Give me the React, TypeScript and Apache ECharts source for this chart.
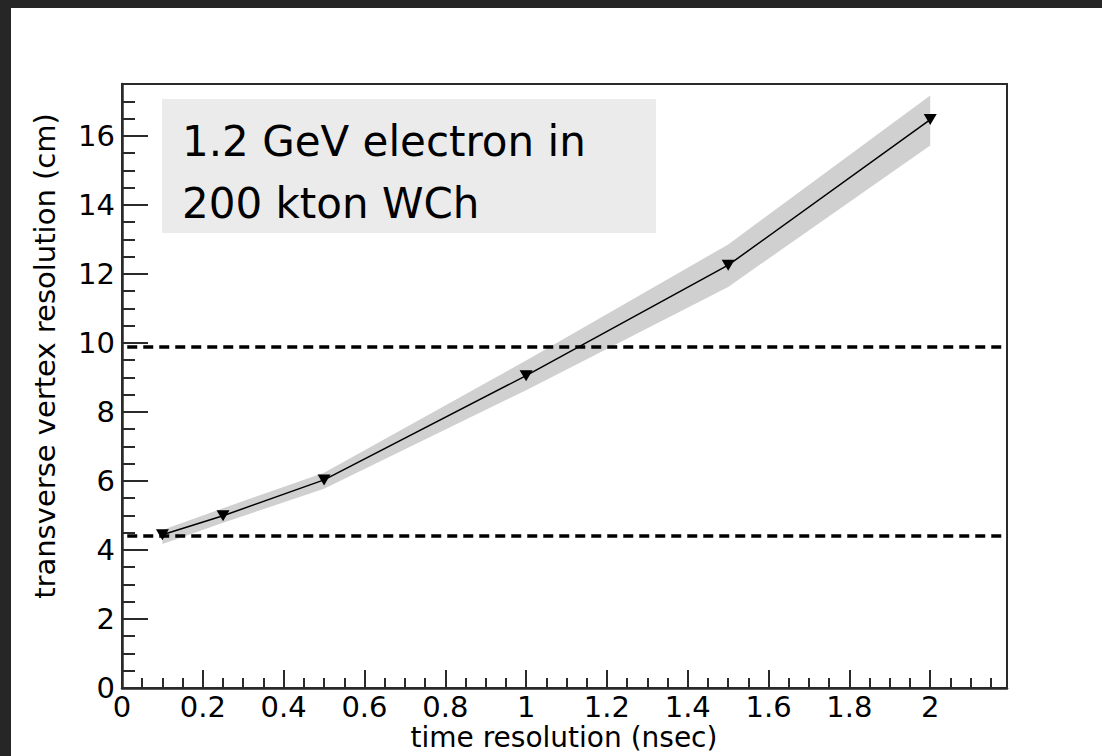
import React, { useEffect, useRef } from "react";
import * as echarts from "echarts";

// Time resolution (ns) of the photosensors
const timeRes = [0.1, 0.25, 0.5, 1.0, 1.5, 2.0];
// Transverse vertex resolution (cm)
const vertexRes = [4.44, 4.99, 6.03, 9.05, 12.25, 16.47];
// Uncertainty band around the curve
const bandLow = [4.17, 4.79, 5.77, 8.63, 11.62, 15.72];
const bandHigh = [4.58, 5.21, 6.24, 9.49, 12.85, 17.17];
// Horizontal reference levels
const refLevels = [9.9, 4.4];

const FONT = "DejaVu Sans";

export default function App() {
  const ref = useRef<HTMLDivElement>(null);

  useEffect(() => {
    document.body.style.margin = "0";
    const chart = echarts.init(ref.current!, undefined, { renderer: "svg" });

    const tickColor = "#2a2a2a";

    chart.setOption({
      animation: false,
      backgroundColor: "#ffffff",
      grid: {
        left: 122,
        right: 95,
        top: 84,
        bottom: 68,
        show: true,
        borderColor: tickColor,
        borderWidth: 2,
        backgroundColor: "transparent",
      },
      xAxis: {
        type: "value",
        min: 0,
        max: 2.19,
        interval: 0.2,
        axisLine: { show: true, lineStyle: { color: tickColor, width: 2.5 } },
        axisTick: { show: true, inside: true, length: 18, lineStyle: { color: tickColor, width: 2 } },
        minorTick: { show: true, splitNumber: 4, length: 10, lineStyle: { color: tickColor, width: 2 } },
        splitLine: { show: false },
        minorSplitLine: { show: false },
        axisLabel: {
          fontFamily: FONT,
          fontSize: 29,
          lineHeight: 29,
          color: "#000",
          margin: 4,
          showMaxLabel: false,
        },
      },
      yAxis: [
        {
          type: "value",
          min: 0,
          max: 17.5,
          interval: 2,
          position: "left",
          axisLine: { show: true, lineStyle: { color: tickColor, width: 2.5 } },
          axisTick: { show: true, inside: true, length: 26, lineStyle: { color: tickColor, width: 2 } },
          splitLine: { show: false },
          axisLabel: {
            fontFamily: FONT,
            fontSize: 29,
            lineHeight: 29,
            color: "#000",
            margin: 7,
            showMaxLabel: false,
          },
        },
        {
          // minor ticks every 0.5 cm
          type: "value",
          min: 0,
          max: 17.5,
          interval: 0.5,
          position: "left",
          axisLine: { show: false },
          axisTick: { show: true, inside: true, length: 13, lineStyle: { color: tickColor, width: 2 } },
          splitLine: { show: false },
          axisLabel: { show: false },
        },
      ],
      graphic: [
        { type: "rect", shape: { x: 0, y: 0, width: 1102, height: 8 }, style: { fill: "#262626" }, z: 100 },
        { type: "rect", shape: { x: 0, y: 0, width: 11, height: 756 }, style: { fill: "#262626" }, z: 100 },
        { type: "rect", shape: { x: 162, y: 99, width: 494, height: 134 }, style: { fill: "#ebebeb" }, z: 5 },
        {
          type: "text",
          x: 182,
          y: 141,
          z: 6,
          style: { text: "1.2 GeV electron in", font: `42px "${FONT}"`, fill: "#000", verticalAlign: "middle" },
        },
        {
          type: "text",
          x: 182,
          y: 203,
          z: 6,
          style: { text: "200 kton WCh", font: `42px "${FONT}"`, fill: "#000", verticalAlign: "middle" },
        },
        {
          type: "text",
          x: 45,
          y: 356,
          rotation: Math.PI / 2,
          style: {
            text: "transverse vertex resolution (cm)",
            font: `29px "${FONT}"`,
            lineHeight: 29,
            fill: "#000",
            align: "center",
            verticalAlign: "middle",
          },
        },
        {
          type: "text",
          x: 564,
          y: 737,
          style: {
            text: "time resolution (nsec)",
            font: `28px "${FONT}"`,
            lineHeight: 28,
            fill: "#000",
            align: "center",
            verticalAlign: "middle",
          },
        },
      ],
      series: [
        {
          type: "custom",
          name: "band",
          z: 1,
          encode: { x: 0, y: [1, 2] },
          data: timeRes.map((t, i) => [t, bandLow[i], bandHigh[i]]),
          renderItem: (params: any, api: any) => {
            if (params.dataIndex !== 0) return null;
            const pts: number[][] = [];
            for (let i = 0; i < timeRes.length; i++) pts.push(api.coord([timeRes[i], bandHigh[i]]));
            for (let i = timeRes.length - 1; i >= 0; i--) pts.push(api.coord([timeRes[i], bandLow[i]]));
            return { type: "polygon", shape: { points: pts }, style: { fill: "#d0d0d0" } };
          },
        },
        {
          type: "line",
          name: "resolution",
          z: 3,
          data: timeRes.map((t, i) => [t, vertexRes[i]]),
          symbol: "triangle",
          symbolRotate: 180,
          symbolSize: [13, 11],
          itemStyle: { color: "#000" },
          lineStyle: { color: "#000", width: 1.5 },
          markLine: {
            silent: true,
            symbol: "none",
            label: { show: false },
            lineStyle: { color: "#000", width: 3.5, type: [10, 6] },
            data: refLevels.map((v) => [
              { coord: [0.013, v] },
              { coord: [2.18, v] },
            ]),
          },
        },
      ],
    });

    return () => chart.dispose();
  }, []);

  return <div ref={ref} style={{ width: 1102, height: 756 }} />;
}
